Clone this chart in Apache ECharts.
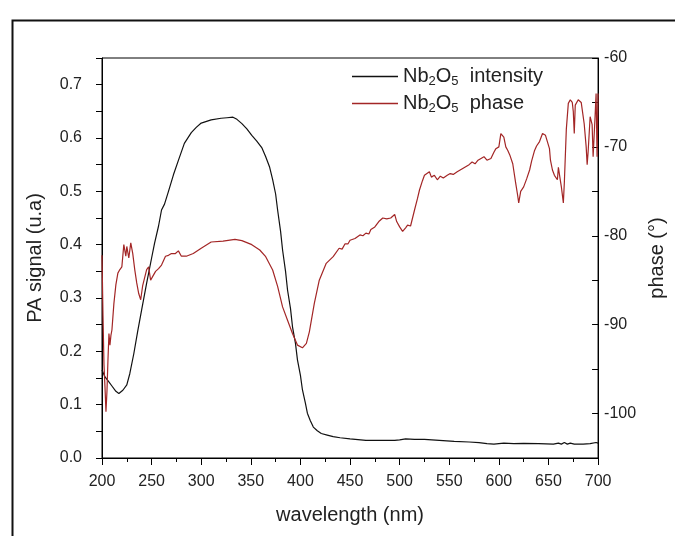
<!DOCTYPE html>
<html>
<head>
<meta charset="utf-8">
<script src="https://cdn.jsdelivr.net/npm/echarts@6/dist/echarts.min.js"></script>
<style>
html,body{margin:0;padding:0;background:#fff;}
#chart{width:675px;height:536px;}
</style>
</head>
<body>
<div id="chart"></div>
<script>
// Intensity (PA signal) data
const intensityWl = [200,203,206,210,214,217,221,225,228,232,236,240,245,250,253,257,260,263,267,272,277,283,290,295,300,310,320,326,332,336,341,346,351,356,361,365,369,372,375,377,380,382,385,387,390,392,395,397,400,402,405,407,410,413,417,421,427,433,440,450,466,480,495,500,506,515,525,540,555,570,580,588,595,605,615,625,640,655,660,663,666,669,672,676,685,692,698,700];
const intensityVal = [0.165,0.152,0.145,0.135,0.125,0.121,0.127,0.137,0.158,0.195,0.238,0.278,0.328,0.375,0.403,0.435,0.465,0.476,0.500,0.531,0.558,0.590,0.610,0.620,0.628,0.634,0.637,0.638,0.639,0.635,0.627,0.617,0.605,0.594,0.582,0.565,0.545,0.522,0.495,0.465,0.425,0.390,0.350,0.315,0.280,0.246,0.215,0.184,0.155,0.128,0.103,0.084,0.070,0.058,0.051,0.046,0.043,0.040,0.038,0.036,0.033,0.033,0.033,0.034,0.036,0.035,0.035,0.033,0.031,0.030,0.029,0.027,0.026,0.028,0.027,0.0275,0.027,0.026,0.028,0.026,0.029,0.026,0.028,0.026,0.026,0.027,0.029,0.028];

// Phase data
const phaseWl = [200,201,202,203,204,205,206,207,208,209,210,212,214,216,218,220,222,224,225,227,229,231,233,235,237,239,241,243,245,247,249,251,254,257,260,262,264,267,270,274,277,280,285,292,300,310,322,334,341,351,359,365,372,377,382,387,392,397,402,406,409,414,419,426,433,439,442,445,448,450,455,460,463,466,469,471,475,479,481,483,487,491,495,497,500,503,506,508,511,513,515,518,520,523,525,530,532,535,538,541,544,548,551,554,558,561,564,567,570,573,576,579,582,585,588,592,595,597,600,602,605,607,609,611,614,617,619,620,622,623,625,628,631,633,636,638,641,644,647,649,651,652,654,656,659,660,662,663,665,666,668,670,672,674,675,676,677,680,683,686,688,689,690,692,694,695,697,698,699,700];
const phaseVal = [-82.2,-89.0,-94.5,-97.0,-99.8,-97.5,-94.0,-91.0,-92.3,-91.2,-90.6,-87.6,-85.5,-84.2,-83.8,-83.5,-81.0,-82.3,-81.2,-82.5,-80.8,-82.0,-83.8,-85.3,-86.5,-87.2,-85.6,-85.5,-83.8,-83.5,-85.0,-84.6,-84.0,-83.7,-83.3,-83.4,-82.3,-82.2,-82.0,-82.0,-81.7,-82.3,-82.3,-82.0,-81.4,-80.7,-80.6,-80.4,-80.55,-81.0,-81.6,-82.35,-83.85,-85.7,-88.0,-89.5,-91.0,-92.3,-92.6,-92.1,-90.8,-87.6,-85.0,-83.1,-82.35,-81.4,-81.5,-80.9,-80.9,-80.5,-80.3,-79.9,-80.0,-79.7,-79.8,-79.3,-79.0,-78.4,-78.5,-78.0,-78.1,-78.0,-77.6,-78.4,-79.0,-79.5,-79.1,-78.8,-78.9,-78.0,-77.1,-75.8,-74.85,-73.8,-73.2,-72.8,-73.4,-73.2,-73.7,-73.3,-73.5,-73.2,-73.0,-73.1,-72.8,-72.6,-72.4,-72.2,-72.0,-71.7,-71.9,-71.5,-71.3,-71.1,-71.5,-71.3,-70.6,-70.2,-70.0,-68.5,-68.9,-70.0,-70.4,-70.9,-71.9,-74.1,-75.5,-76.3,-75.0,-74.8,-74.5,-73.6,-72.6,-71.6,-70.4,-69.9,-69.4,-68.5,-68.7,-68.9,-70.2,-71.5,-72.6,-73.2,-73.7,-72.3,-73.8,-74.5,-76.3,-74.0,-68.0,-65.1,-64.7,-65.0,-66.0,-68.5,-65.3,-64.7,-65.0,-67.4,-70.0,-72.0,-70.5,-66.6,-67.5,-71.1,-66.5,-64.0,-71.1,-64.0];

const xTitle = 'wavelength (nm)';
const yLeftTitle = 'PA signal (u.a)';
const yRightTitle = 'phase (°)';

const font = 'Liberation Sans, Arial, sans-serif';
const txt = '#222';

const chart = echarts.init(document.getElementById('chart'), null, {renderer: 'canvas'});
chart.setOption({
  backgroundColor: '#fff',
  animation: false,
  graphic: [{
    type: 'rect', left: 10, top: 18, silent: true,
    shape: {x: 0, y: 0, width: 700, height: 600},
    style: {fill: 'none', stroke: '#111', lineWidth: 2}
  }],
  grid: {left: 102, right: 76, top: 58, bottom: 78, show: true, borderColor: '#000', borderWidth: 1, backgroundColor: 'transparent'},
  legend: {
    orient: 'vertical', left: 347, top: 60, itemWidth: 46, itemHeight: 1.5, itemGap: 4,
    icon: 'rect',
    data: ['intensity', 'phase'],
    formatter: function (name) {
      return '{n|Nb}{s|2}{n|O}{s|5}{n|  ' + name + '}';
    },
    textStyle: {
      fontFamily: font, color: txt,
      rich: {
        n: {fontSize: 20, lineHeight: 24, fontFamily: font, color: txt},
        s: {fontSize: 13, lineHeight: 13, padding: [10, 0, 0, 0], fontFamily: font, color: txt}
      }
    }
  },
  xAxis: {
    type: 'value', min: 200, max: 700, interval: 50,
    name: xTitle, nameLocation: 'middle', nameGap: 47,
    nameTextStyle: {fontSize: 20, fontFamily: font, color: txt},
    axisLine: {show: true, onZero: false, lineStyle: {color: '#000', width: 1}},
    axisTick: {show: true, length: 7, lineStyle: {color: '#000'}},
    minorTick: {show: true, splitNumber: 2, length: 4, lineStyle: {color: '#000'}},
    axisLabel: {fontSize: 16, fontFamily: font, color: txt, margin: 16},
    splitLine: {show: false}
  },
  yAxis: [{
    type: 'value', min: 0, max: 0.75, interval: 0.05, position: 'left',
    name: yLeftTitle, nameLocation: 'middle', nameGap: 57, nameRotate: 90,
    nameTextStyle: {fontSize: 20, fontFamily: font, color: txt},
    axisLine: {show: true, onZero: false, lineStyle: {color: '#000', width: 1}},
    axisTick: {show: true, length: 6, lineStyle: {color: '#000'}},
    axisLabel: {fontSize: 16, fontFamily: font, color: txt, margin: 20,
      formatter: function (v) { const t = v * 10; return Math.abs(Math.round(t) - t) < 1e-6 ? v.toFixed(1) : ''; }},
    splitLine: {show: false}
  }, {
    type: 'value', min: -105, max: -60, interval: 5, position: 'right',
    name: yRightTitle, nameLocation: 'middle', nameGap: 46, nameRotate: 90,
    nameTextStyle: {fontSize: 20, fontFamily: font, color: txt},
    axisLine: {show: true, onZero: false, lineStyle: {color: '#000', width: 1}},
    axisTick: {show: true, inside: true, length: 6, lineStyle: {color: '#000'}},
    axisLabel: {fontSize: 16, fontFamily: font, color: txt, margin: 6,
      formatter: function (v) { return (Math.round(v) % 10 === 0) ? String(Math.round(v)) : ''; }},
    splitLine: {show: false}
  }],
  series: [{
    name: 'intensity', type: 'line', yAxisIndex: 0, symbol: 'none', color: '#111',
    lineStyle: {width: 1.2, color: '#111'},
    data: intensityWl.map((w, i) => [w, intensityVal[i]])
  }, {
    name: 'phase', type: 'line', yAxisIndex: 1, symbol: 'none', color: '#a32626',
    lineStyle: {width: 1.2, color: '#a32626'},
    data: phaseWl.map((w, i) => [w, phaseVal[i]])
  }]
});
</script>
</body>
</html>
